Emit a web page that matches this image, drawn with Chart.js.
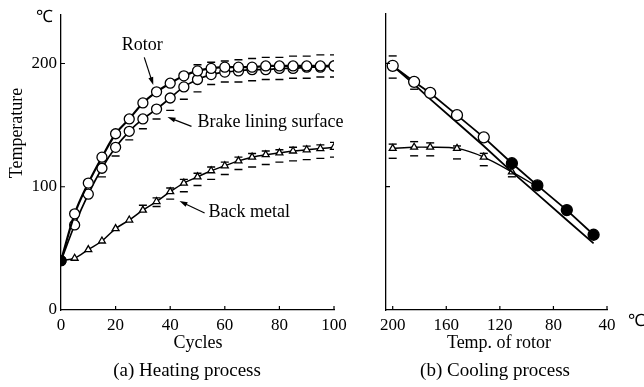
<!DOCTYPE html>
<html>
<head>
<meta charset="utf-8">
<script src="https://cdn.jsdelivr.net/npm/chart.js@4.4.0/dist/chart.umd.min.js"></script>
<style>
    html, body { margin: 0; padding: 0; background: #fff; }
    #wrap { position: relative; width: 644px; height: 387px; }
    canvas { position: absolute; top: 0; }
    #heat { left: 0; }
    #cool { left: 372px; }
</style>
</head>
<body>
<div id="wrap">
    <canvas id="heat" width="372" height="387"></canvas>
    <canvas id="cool" width="272" height="387"></canvas>
</div>
<script>
// (a) heating process: temperatures over brake cycles
const cycles = [0, 5, 10, 15, 20, 25, 30, 35, 40, 45, 50, 55, 60, 65, 70, 75, 80, 85, 90, 95, 100];
const rotorHeat = [40, 78, 103, 124, 143, 155, 168, 177, 184, 190, 194, 196, 197, 197, 197, 198, 198, 198, 198, 198, 198];
const liningHeat = [40, 69, 94, 115, 132, 145, 155, 163, 172, 181, 187, 191, 193, 194, 195, 195, 196, 196, 197, 197, 198];
const metalHeat = [40, 42, 49, 56, 66, 73, 81, 88, 96, 103, 108, 113, 117, 121, 124, 126, 127.5, 129, 130, 131, 132];
// scatter caps (drawn as short dashes)
const rotorHeatHigh = [null, null, null, null, null, null, null, null, null, null, 199, 201, 202, 203, 204, 205, 205, 206, 206, 207, 207];
const liningHeatLow = [null, null, null, 108, 125, 138, 147, 155, 162, 171, 177, 183, 185, 185, 186, 187, 187, 188, 188, 189, 189];
const metalHeatHigh = [null, null, null, null, null, null, 85, 91, 99, 106, 111, 116, 120, 124, 127, 129, 130, 132, 133, 134, 136];
const metalHeatLow = [null, null, null, null, null, null, null, 84, 90, 96, 101, 106, 110, 114, 116, 118, 120, 121, 122, 123, 124];

// (b) cooling process: temperatures against rotor temperature
const rotorTemp = [200, 184, 172, 152, 132, 111, 92, 70, 50];
const liningCool = [198, 185, 176, 158, 140, 119, 101, 81, 61];
const rotorCool = [198, 183, 171, 152, 133, 112, 94, 73, 54];
const metalCool = [131, 132, 132, 131, 124, 112, 100, null, null];
const liningCoolHigh = [206, null, null, null, null, null, null, null, null];
const liningCoolLow = [188, 179, null, null, null, null, null, null, null];
const metalCoolHigh = [134.5, 136.5, 135.5, 133, 127, null, null, null, null];
const metalCoolLow = [123, 125, 125, 122.5, 117, 108, null, null, null];

// tick labels
const heatXTicks = [0, 20, 40, 60, 80, 100];
const coolXTicks = [200, 160, 120, 80, 40];
const tempTicks = [0, 100, 200];

const SERIF = '"Liberation Serif", "Times New Roman", serif';
Chart.defaults.font.family = SERIF;
Chart.defaults.color = '#000';

const pts = (xs, ys) => xs.map((x, i) => ({ x: x, y: ys[i] }));

function curve(xs, ys, o) {
    return {
        data: pts(xs, ys),
        borderColor: '#000',
        borderWidth: o.width || 1.6,
        pointStyle: o.style || 'circle',
        pointRadius: o.radius === undefined ? 5 : o.radius,
        pointBackgroundColor: o.fill || '#fff',
        pointBorderColor: '#000',
        pointBorderWidth: 1.3,
        tension: o.tension || 0,
        cubicInterpolationMode: o.mono ? 'monotone' : 'default',
        fill: false,
        order: o.order || 0
    };
}

function caps(xs, ys) {
    return {
        data: pts(xs, ys),
        showLine: false,
        pointStyle: 'line',
        pointRadius: 4,
        borderColor: '#000',
        pointBorderColor: '#000',
        pointBorderWidth: 1.4,
        order: 5
    };
}

function linearX(min, max, tickList, reverse) {
    return {
        type: 'linear', min: min, max: max, reverse: !!reverse,
        afterBuildTicks: s => { s.ticks = tickList.map(v => ({ value: v })); },
        ticks: { font: { size: 17 }, color: '#000', padding: 5, maxRotation: 0, autoSkip: false },
        grid: { drawOnChartArea: false, drawTicks: false },
        border: { color: '#000', width: 1.3 },
        afterFit: s => { s.height = 77; }
    };
}

function tempY(showLabels, w) {
    return {
        type: 'linear', min: 0, max: 240,
        afterBuildTicks: s => { s.ticks = tempTicks.map(v => ({ value: v })); },
        ticks: { display: showLabels, font: { size: 17 }, color: '#000', padding: 4 },
        grid: { drawOnChartArea: false, drawTicks: false },
        border: { color: '#000', width: 1.3 },
        afterFit: s => { s.width = w; }
    };
}

// small tick marks pointing into the plot
function innerTicks(chart) {
    const ctx = chart.ctx, a = chart.chartArea;
    const sx = chart.scales.x, sy = chart.scales.y;
    ctx.save();
    ctx.strokeStyle = '#000';
    ctx.lineWidth = 1.2;
    ctx.beginPath();
    sx.ticks.forEach(t => {
        const px = sx.getPixelForValue(t.value);
        if (Math.abs(px - a.left) < 3) return;
        ctx.moveTo(px, a.bottom);
        ctx.lineTo(px, a.bottom - 4);
    });
    sy.ticks.forEach(t => {
        if (t.value === 0) return;
        const py = sy.getPixelForValue(t.value);
        ctx.moveTo(a.left, py);
        ctx.lineTo(a.left + 4, py);
    });
    ctx.stroke();
    ctx.restore();
}

function arrow(ctx, x1, y1, x2, y2) {
    const ang = Math.atan2(y2 - y1, x2 - x1);
    ctx.beginPath();
    ctx.moveTo(x1, y1);
    ctx.lineTo(x2 - Math.cos(ang) * 5, y2 - Math.sin(ang) * 5);
    ctx.stroke();
    ctx.beginPath();
    ctx.moveTo(x2, y2);
    ctx.lineTo(x2 - Math.cos(ang) * 8 + Math.sin(ang) * 2.5, y2 - Math.sin(ang) * 8 - Math.cos(ang) * 2.5);
    ctx.lineTo(x2 - Math.cos(ang) * 8 - Math.sin(ang) * 2.5, y2 - Math.sin(ang) * 8 + Math.cos(ang) * 2.5);
    ctx.closePath();
    ctx.fill();
}

const heatDecor = {
    id: 'heatDecor',
    afterDraw(chart) {
        innerTicks(chart);
        const ctx = chart.ctx, a = chart.chartArea;
        const X = v => chart.scales.x.getPixelForValue(v);
        const Y = v => chart.scales.y.getPixelForValue(v);
        ctx.save();
        ctx.fillStyle = '#000';
        ctx.strokeStyle = '#000';
        ctx.lineWidth = 1.2;
        ctx.textBaseline = 'middle';

        ctx.font = '17px ' + SERIF;
        ctx.textAlign = 'center';
        ctx.fillText('℃', a.left - 17, a.top + 3);

        ctx.font = '18px ' + SERIF;
        ctx.save();
        ctx.translate(17, 133);
        ctx.rotate(-Math.PI / 2);
        ctx.fillText('Temperature', 0, 0);
        ctx.restore();

        ctx.fillText('Cycles', 198, 343);
        ctx.font = '19px ' + SERIF;
        ctx.fillText('(a) Heating process', 187, 371);

        // labels with arrows
        ctx.font = '18px ' + SERIF;
        ctx.fillText('Rotor', X(29.8), Y(215));
        arrow(ctx, X(30.5), Y(205), X(33.8), Y(182.5));
        ctx.textAlign = 'left';
        ctx.fillText('Brake lining surface', X(50), Y(152.5));
        arrow(ctx, X(47.8), Y(149), X(39), Y(156.5));
        ctx.fillText('Back metal', X(54), Y(79));
        arrow(ctx, X(52.6), Y(78.7), X(43.4), Y(88.4));
        ctx.restore();
    }
};

const coolDecor = {
    id: 'coolDecor',
    afterDraw(chart) {
        innerTicks(chart);
        const ctx = chart.ctx, a = chart.chartArea;
        ctx.save();
        ctx.fillStyle = '#000';
        ctx.textAlign = 'center';
        ctx.textBaseline = 'middle';
        ctx.font = '17px ' + SERIF;
        ctx.fillText('℃', a.right + 29, 322);
        ctx.font = '18px ' + SERIF;
        ctx.fillText('Temp. of rotor', 499 - 372, 343);
        ctx.font = '19px ' + SERIF;
        ctx.fillText('(b) Cooling process', 495 - 372, 371);
        ctx.restore();
    }
};

const startDot = c => c.dataIndex === 0 ? '#000' : '#fff';

new Chart(document.getElementById('heat'), {
    type: 'line',
    data: {
        datasets: [
            curve(cycles, rotorHeat, { width: 2.2, tension: 0.3, mono: true, fill: startDot }),
            curve(cycles, liningHeat, { width: 1.7, tension: 0.3, mono: true, fill: startDot }),
            curve(cycles, metalHeat, { width: 1.5, tension: 0.3, mono: true, style: 'triangle', radius: 4, fill: startDot }),
            caps(cycles, rotorHeatHigh),
            caps(cycles, liningHeatLow),
            caps(cycles, metalHeatHigh),
            caps(cycles, metalHeatLow)
        ]
    },
    options: {
        responsive: false,
        animation: false,
        devicePixelRatio: 1,
        layout: { padding: { left: 0, right: 38, top: 14, bottom: 0 } },
        plugins: { legend: { display: false }, tooltip: { enabled: false } },
        scales: {
            x: linearX(0, 100, heatXTicks, false),
            y: tempY(true, 61)
        }
    },
    plugins: [heatDecor]
});

const darkWhenMerged = c => (c.raw && c.raw.x <= 112) ? '#000' : '#fff';

new Chart(document.getElementById('cool'), {
    type: 'line',
    data: {
        datasets: [
            curve(rotorTemp, liningCool, { width: 1.8, radius: 5.5, fill: darkWhenMerged }),
            curve(rotorTemp, rotorCool, { width: 1.8, radius: 0 }),
            curve(rotorTemp, metalCool, { width: 1.4, tension: 0.3, style: 'triangle', radius: 4 }),
            caps(rotorTemp, liningCoolHigh),
            caps(rotorTemp, liningCoolLow),
            caps(rotorTemp, metalCoolHigh),
            caps(rotorTemp, metalCoolLow)
        ]
    },
    options: {
        responsive: false,
        animation: false,
        devicePixelRatio: 1,
        layout: { padding: { left: 0, right: 37, top: 14, bottom: 0 } },
        plugins: { legend: { display: false }, tooltip: { enabled: false } },
        scales: {
            x: linearX(40, 205, coolXTicks, true),
            y: tempY(false, 14)
        }
    },
    plugins: [coolDecor]
});
</script>
</body>
</html>
